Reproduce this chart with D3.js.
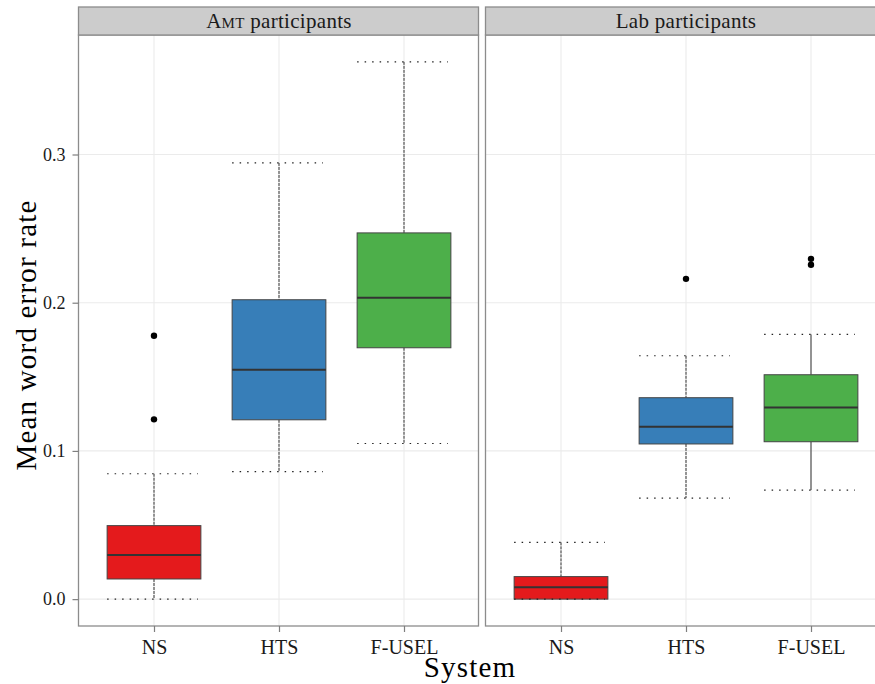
<!DOCTYPE html>
<html><head><meta charset="utf-8">
<script src="https://cdn.jsdelivr.net/npm/d3@7"></script>
<style>body{margin:0;background:#fff}svg{display:block}text{font-family:"Liberation Serif","DejaVu Serif",serif}</style>
</head><body><svg id="c" width="875" height="684"></svg>
<script>
const categories = ["NS", "HTS", "F-USEL"];
const panelNames = ["Amt participants", "Lab participants"];
const colors = ["#E41A1C", "#377EB8", "#4DAF4A"];
const yTicks = [0.0, 0.1, 0.2, 0.3];
const yTickLabels = ["0.0", "0.1", "0.2", "0.3"];

const amtLower  = [0.0,    0.086,  0.105];
const amtQ1     = [0.0136, 0.121,  0.1696];
const amtMedian = [0.0298, 0.1548, 0.2033];
const amtQ3     = [0.0496, 0.202,  0.2471];
const amtUpper  = [0.0846, 0.2943, 0.3625];
const amtOutliers = [[0.1777, 0.1213], [], []];

const labLower  = [0.0,    0.0682, 0.0736];
const labQ1     = [0.0,    0.1047, 0.1062];
const labMedian = [0.0080, 0.1163, 0.1293];
const labQ3     = [0.0152, 0.1359, 0.1514];
const labUpper  = [0.0383, 0.1642, 0.1786];
const labOutliers = [[], [0.2161], [0.2296, 0.2256]];

function build(lo, q1, md, q3, up, out) {
  return categories.map((c, i) => ({cat: c, i, lo: lo[i], q1: q1[i], md: md[i], q3: q3[i], up: up[i], out: out[i]}));
}
const panels = [
  {name: panelNames[0], data: build(amtLower, amtQ1, amtMedian, amtQ3, amtUpper, amtOutliers), x0: 79, solidWhisker: []},
  {name: panelNames[1], data: build(labLower, labQ1, labMedian, labQ3, labUpper, labOutliers), x0: 486, solidWhisker: ["F-USEL"]}
];

const svg = d3.select("#c");
const panelW = 400, pTop = 35, pBottom = 626, stripTop = 7;

const allVals = panels.flatMap(p => p.data.flatMap(d => [d.lo, d.up, ...d.out]));
const vmin = d3.min(allVals), vmax = d3.max(allVals), pad = (vmax - vmin) * 0.05;
const y = d3.scaleLinear().domain([vmin - pad, vmax + pad]).range([pBottom, pTop]);

panels.forEach((p, pi) => {
  const x = d3.scalePoint().domain(categories).range([p.x0, p.x0 + panelW]).padding(0.6);
  const bw = x.step() * 0.75;
  const g = svg.append("g");
  g.append("rect").attr("x", p.x0).attr("y", pTop).attr("width", panelW).attr("height", pBottom - pTop).attr("fill", "#fff");
  g.selectAll(".hg").data(yTicks).join("line")
    .attr("x1", p.x0).attr("x2", p.x0 + panelW).attr("y1", d => y(d)).attr("y2", d => y(d))
    .attr("stroke", "#ebebeb").attr("stroke-width", 1.1);
  g.selectAll(".vg").data(categories).join("line")
    .attr("x1", d => x(d)).attr("x2", d => x(d)).attr("y1", pTop).attr("y2", pBottom)
    .attr("stroke", "#ebebeb").attr("stroke-width", 1.1);
  p.data.forEach(d => {
    const dash = p.solidWhisker.includes(d.cat) ? null : "3,1";
    g.append("line").attr("x1", x(d.cat)).attr("x2", x(d.cat)).attr("y1", y(d.up)).attr("y2", y(d.q3))
      .attr("stroke", "#333").attr("stroke-width", 1).attr("stroke-dasharray", dash);
    g.append("line").attr("x1", x(d.cat)).attr("x2", x(d.cat)).attr("y1", y(d.q1)).attr("y2", y(d.lo))
      .attr("stroke", "#333").attr("stroke-width", 1).attr("stroke-dasharray", dash);
  });
  g.selectAll(".box").data(p.data).join("rect")
    .attr("x", d => x(d.cat) - bw / 2).attr("width", bw)
    .attr("y", d => y(d.q3)).attr("height", d => y(d.q1) - y(d.q3))
    .attr("fill", d => colors[d.i]).attr("stroke", "#444").attr("stroke-width", 1);
  g.selectAll(".med").data(p.data).join("line")
    .attr("x1", d => x(d.cat) - bw / 2).attr("x2", d => x(d.cat) + bw / 2)
    .attr("y1", d => y(d.md)).attr("y2", d => y(d.md))
    .attr("stroke", "#333").attr("stroke-width", 2);
  p.data.forEach(d => {
    [d.lo, d.up].forEach(v => {
      g.append("line").attr("x1", x(d.cat) - bw / 2).attr("x2", x(d.cat) + bw / 2 - 3)
        .attr("y1", y(v)).attr("y2", y(v))
        .attr("stroke", "#222").attr("stroke-width", 1.2).attr("stroke-dasharray", "1.5,6");
    });
    d.out.forEach(v => {
      g.append("circle").attr("cx", x(d.cat)).attr("cy", y(v)).attr("r", 3.2).attr("fill", "#000");
    });
  });
  g.append("rect").attr("x", p.x0 - 0.5).attr("y", pTop).attr("width", panelW).attr("height", pBottom - pTop)
    .attr("fill", "none").attr("stroke", "#8c8c8c").attr("stroke-width", 1.3);
  g.append("rect").attr("x", p.x0 - 0.5).attr("y", stripTop).attr("width", panelW).attr("height", pTop - stripTop)
    .attr("fill", "#cccccc").attr("stroke", "#8c8c8c").attr("stroke-width", 1.3);
  const st = g.append("text").attr("x", pi === 0 ? 279 : 686).attr("y", 28).attr("text-anchor", "middle")
    .attr("font-size", 21).attr("letter-spacing", 0.3).attr("fill", "#1a1a1a");
  if (pi === 0) {
    st.append("tspan").text("A");
    st.append("tspan").style("font-variant", "small-caps").text("mt");
    st.append("tspan").text(" participants");
  } else {
    st.text(p.name);
  }
  const xa = g.append("g").attr("transform", `translate(0,${pBottom})`)
    .call(d3.axisBottom(x).tickSize(6).tickPadding(8));
  xa.select(".domain").remove();
  xa.selectAll(".tick line").attr("stroke", "#7f7f7f").attr("stroke-width", 1.2);
  xa.selectAll(".tick text").attr("font-size", 20).attr("fill", "#1a1a1a")
    .attr("font-family", "Liberation Serif, serif");
});

const ya = svg.append("g").attr("transform", `translate(78.5,0)`)
  .call(d3.axisLeft(y).tickValues(yTicks).tickFormat((d, i) => yTickLabels[i]).tickSize(6).tickPadding(7));
ya.select(".domain").remove();
ya.selectAll(".tick line").attr("stroke", "#7f7f7f").attr("stroke-width", 1.2);
ya.selectAll(".tick text").attr("font-size", 18).attr("fill", "#1a1a1a")
  .attr("font-family", "Liberation Serif, serif");

svg.append("text").attr("x", 470).attr("y", 677).attr("text-anchor", "middle")
  .attr("font-size", 29).attr("letter-spacing", 1.2).attr("fill", "#000").text("System");
svg.append("text").attr("transform", "translate(36,335) rotate(-90)").attr("text-anchor", "middle")
  .attr("font-size", 29).attr("letter-spacing", 1.2).attr("fill", "#000").text("Mean word error rate");
</script></body></html>
